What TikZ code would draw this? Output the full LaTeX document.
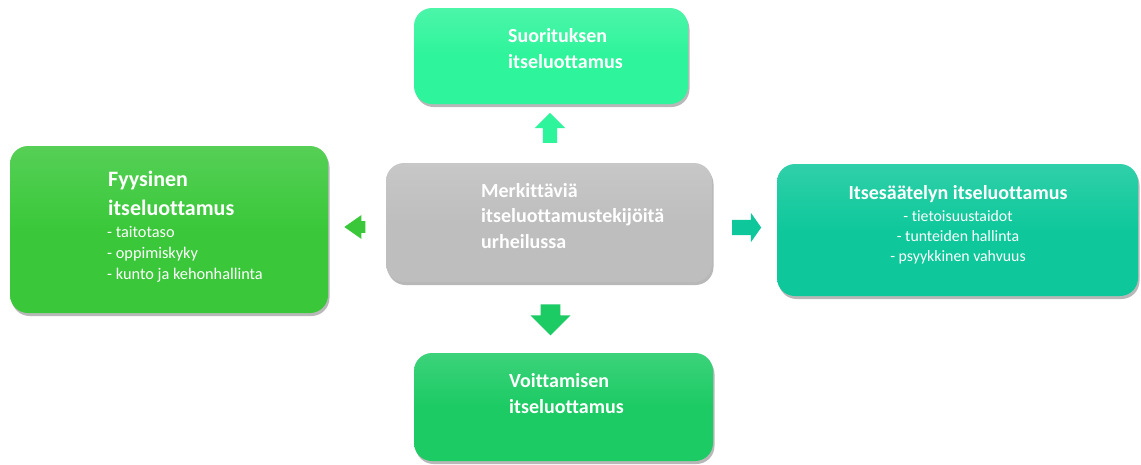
\documentclass[tikz,border=0pt]{standalone}
\usepackage{fontspec}
\setmainfont[Ligatures=NoCommon]{Carlito}
\usetikzlibrary{shapes.arrows,shadows}

\definecolor{suoritus}{RGB}{46,244,155}
\definecolor{keski}{RGB}{190,190,190}
\definecolor{fyysinen}{RGB}{58,200,58}
\definecolor{saately}{RGB}{14,200,155}
\definecolor{voitto}{RGB}{28,203,100}

\begin{document}
\begin{tikzpicture}[x=1pt, y=-1pt,
	laatikko/.style={rounded corners=18pt, inner sep=0pt, top color=#1!86!white, bottom color=#1, middle color=#1,
		drop shadow={shadow xshift=1.5pt, shadow yshift=-3pt, opacity=0.28, fill=black}},
	nuoli/.style={single arrow, fill=#1, draw=none, inner xsep=0pt, single arrow head indent=0pt},
	otsikko/.style={text=white, inner sep=0pt, font=\bfseries\fontsize{20}{26}\selectfont},
	lista/.style={text=white, inner sep=0pt, font=\fontsize{16.3}{21}\selectfont}]
	\fill[white] (0,0) rectangle (1141,464);
	\useasboundingbox (0,0) rectangle (1141,464);

	% laatikot
	\node[laatikko=suoritus, minimum width=274pt, minimum height=96pt] (suoritus) at (551,56) {};
	\node[laatikko=keski, minimum width=326pt, minimum height=119pt] (keski) at (549,222.5) {};
	\node[laatikko=fyysinen, minimum width=318pt, minimum height=167pt] (fyysinen) at (169,229.5) {};
	\node[laatikko=saately, minimum width=361pt, minimum height=132pt] (saately) at (957.5,230) {};
	\node[laatikko=voitto, minimum width=299pt, minimum height=108pt] (voitto) at (563.5,407) {};

	% nuolet
	\node[nuoli=suoritus, inner ysep=7pt, minimum width=27pt, minimum height=30pt, single arrow head extend=8pt, rotate=90] (ylos) at (550,131.5) {};
	\node[nuoli=voitto, inner ysep=7.5pt, minimum width=40pt, minimum height=31pt, single arrow head extend=8pt, rotate=-90] (alas) at (550.5,315) {};
	\node[nuoli=fyysinen, inner ysep=5pt, minimum width=24pt, minimum height=21pt, single arrow head extend=5.5pt, single arrow tip angle=70, rotate=180] (vasen) at (359,227) {};
	\node[nuoli=saately, inner ysep=7.5pt, minimum width=22pt, minimum height=29pt, single arrow head extend=7pt, single arrow tip angle=110] (oikea) at (744,227.5) {};

	% tekstit (base = viimeisen rivin perusviiva)
	\node[otsikko, anchor=base west, align=left] (suoritusteksti) at (508,68) {Suorituksen\\itseluottamus};
	\node[otsikko, anchor=base west, align=left, font=\bfseries\fontsize{20}{25.5}\selectfont] (keskiteksti) at (481,248) {Merkittäviä\\itseluottamustekijöitä\\urheilussa};
	\node[otsikko, anchor=base west, align=left, font=\bfseries\fontsize{22}{29}\selectfont] (fyysinenteksti) at (108,215) {Fyysinen\\itseluottamus};
	\node[lista, anchor=base west, align=left] (fyysinenlista) at (107,279) {- taitotaso\\- oppimiskyky\\- kunto ja kehonhallinta};
	\node[otsikko, anchor=base] (saatelyteksti) at (958,199) {Itsesäätelyn itseluottamus};
	\node[lista, anchor=base, align=center, font=\fontsize{15.8}{20}\selectfont] (saatelylista) at (958,261) {- tietoisuustaidot\\- tunteiden hallinta\\- psyykkinen vahvuus};
	\node[otsikko, anchor=base west, align=left] (voittoteksti) at (509,413) {Voittamisen\\itseluottamus};
\end{tikzpicture}
\end{document}
